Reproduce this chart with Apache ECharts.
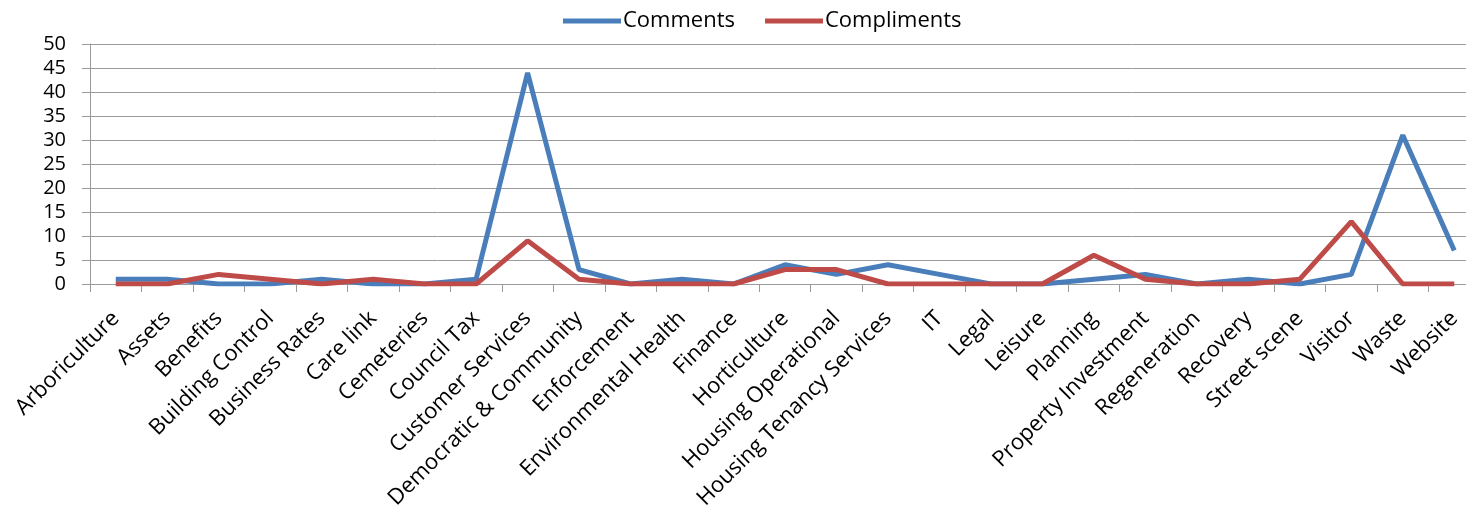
<!DOCTYPE html>
<html>
<head>
<meta charset="utf-8">
<script src="https://cdn.jsdelivr.net/npm/echarts@6/dist/echarts.min.js"></script>
<style>
  html, body { margin: 0; padding: 0; background: #fff; overflow: hidden; }
  /* the plot runs a little past the right edge of the window */
  #chart { width: 1480px; height: 516px; }
</style>
</head>
<body>
<div id="chart"></div>
<script>
const categories = [
  'Arboriculture', 'Assets', 'Benefits', 'Building Control', 'Business Rates',
  'Care link', 'Cemeteries', 'Council Tax', 'Customer Services',
  'Democratic & Community', 'Enforcement', 'Environmental Health', 'Finance',
  'Horticulture', 'Housing Operational', 'Housing Tenancy Services', 'IT',
  'Legal', 'Leisure', 'Planning', 'Property Investment', 'Regeneration',
  'Recovery', 'Street scene', 'Visitor', 'Waste', 'Website'
];
const comments = [1, 1, 0, 0, 1, 0, 0, 1, 44, 3, 0, 1, 0, 4, 2, 4, 2, 0, 0, 1, 2, 0, 1, 0, 2, 31, 7];
const compliments = [0, 0, 2, 1, 0, 1, 0, 0, 9, 1, 0, 0, 0, 3, 3, 0, 0, 0, 0, 6, 1, 0, 0, 1, 13, 0, 0];
const yTicks = { min: 0, max: 50, interval: 5 };

const font = '"Open Sans", "Liberation Sans", sans-serif';
const chart = echarts.init(document.getElementById('chart'));
chart.setOption({
  animation: false,
  backgroundColor: '#ffffff',
  legend: {
    top: 5,
    left: 558,
    itemWidth: 58,
    itemHeight: 5,
    itemGap: 30,
    icon: 'rect',
    textStyle: { fontFamily: font, fontSize: 22, color: '#000', padding: [0, 0, 0, -3] },
    data: ['Comments', 'Compliments']
  },
  grid: { left: 90, top: 44, right: 0, height: 240, containLabel: false },
  xAxis: {
    type: 'category',
    data: categories,
    boundaryGap: true,
    axisLine: { lineStyle: { color: '#9a9a9a', width: 1 } },
    axisTick: { show: true, length: 8, lineStyle: { color: '#9a9a9a' } },
    axisLabel: {
      interval: 0,
      rotate: 45,
      margin: 31,
      fontFamily: font,
      fontSize: 22,
      color: '#000'
    }
  },
  yAxis: {
    type: 'value',
    min: yTicks.min,
    max: yTicks.max,
    interval: yTicks.interval,
    axisLine: { show: true, lineStyle: { color: '#9a9a9a', width: 1 } },
    axisTick: { show: true, length: 8, lineStyle: { color: '#9a9a9a' } },
    axisLabel: { fontFamily: font, fontSize: 20, color: '#000', margin: 24 },
    splitLine: { lineStyle: { color: '#9a9a9a', width: 1 } }
  },
  series: [
    {
      name: 'Comments',
      type: 'line',
      data: comments,
      symbol: 'none',
      color: '#4a7ebb',
      lineStyle: { width: 5, color: '#4a7ebb' }
    },
    {
      name: 'Compliments',
      type: 'line',
      data: compliments,
      symbol: 'none',
      color: '#be4b48',
      lineStyle: { width: 5, color: '#be4b48' }
    }
  ]
});
</script>
</body>
</html>
